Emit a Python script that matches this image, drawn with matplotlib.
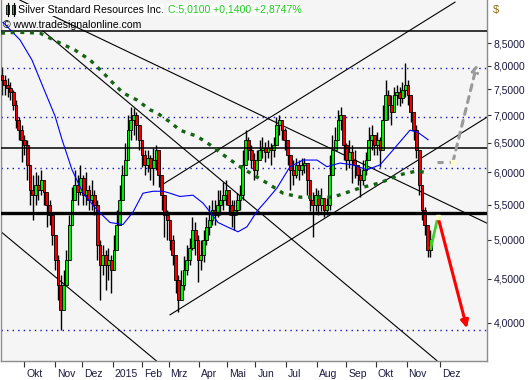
import numpy as np
import matplotlib
matplotlib.use('Agg')
import matplotlib.pyplot as plt
from matplotlib.patches import Rectangle
from matplotlib.ticker import FixedLocator, FixedFormatter, NullLocator
import matplotlib.transforms as mtransforms

plt.rcParams['font.family'] = ['Liberation Sans', 'DejaVu Sans']

# ---------------- data (2-trading-day candles, Sep 2014 - Nov 2015) ----------------
first_open = 7.80
close = [7.69, 7.59, 7.53, 7.45, 7.19, 6.91, 6.72, 6.55, 6.46, 6.12,
         5.72, 5.64, 5.80, 5.72, 5.88, 5.69, 5.49, 5.35, 5.07, 4.74,
         4.43, 4.14, 4.43, 4.74, 5.21, 5.57, 5.80, 5.69, 5.91, 5.64,
         5.72, 5.57, 5.64, 5.49, 4.93, 4.67, 4.80, 4.67, 4.74, 4.61,
         4.87, 5.21, 5.57, 5.96, 6.20, 6.72, 6.91, 7.00, 6.82, 6.55,
         6.29, 6.12, 6.24, 6.07, 6.20, 6.37, 5.96, 5.64, 5.35, 5.28,
         5.00, 4.80, 4.49, 4.25, 4.43, 4.61, 4.74, 4.89, 5.14, 5.00,
         4.74, 4.80, 5.00, 5.17, 5.28, 5.42, 5.35, 5.49, 5.57, 5.64,
         5.72, 5.49, 5.35, 5.42, 5.57, 5.64, 6.12, 6.55, 6.37, 6.20,
         6.04, 6.20, 6.37, 6.41, 6.34, 6.41, 6.37, 6.46, 6.82, 6.91,
         6.72, 6.55, 6.29, 6.04, 5.96, 6.12, 6.04, 6.12, 6.15, 5.88,
         5.57, 5.49, 5.64, 5.49, 5.60, 5.42, 5.49, 5.96, 6.37, 6.55,
         6.91, 7.00, 6.46, 6.20, 6.34, 6.20, 6.12, 5.96, 5.88, 6.04,
         6.20, 6.55, 6.63, 6.46, 6.55, 6.37, 6.91, 7.39, 7.19, 7.06,
         7.39, 7.45, 7.33, 7.49, 7.59, 7.39, 7.06, 6.72, 6.37, 5.80,
         5.42, 5.21, 4.87, 5.01]
high = [7.97, 7.80, 7.74, 7.65, 7.49, 7.29, 6.96, 6.82, 6.63, 6.55,
        6.12, 5.96, 6.00, 5.96, 6.04, 5.88, 5.64, 5.57, 5.35, 5.07,
        4.80, 4.55, 4.61, 4.87, 5.35, 5.77, 6.04, 5.96, 6.12, 5.96,
        6.00, 5.80, 5.88, 5.72, 5.57, 5.00, 4.93, 4.87, 4.89, 4.80,
        5.07, 5.42, 5.80, 6.12, 6.50, 7.00, 7.15, 7.14, 7.06, 6.82,
        6.55, 6.37, 6.37, 6.29, 6.41, 6.46, 6.20, 5.96, 5.64, 5.42,
        5.28, 5.07, 4.80, 4.55, 4.61, 4.79, 4.93, 5.03, 5.32, 5.25,
        5.07, 5.00, 5.14, 5.32, 5.49, 5.57, 5.57, 5.72, 5.72, 5.85,
        5.88, 5.72, 5.57, 5.57, 5.67, 5.80, 6.37, 6.72, 6.59, 6.46,
        6.32, 6.37, 6.55, 6.59, 6.51, 6.55, 6.50, 6.59, 6.96, 7.00,
        6.91, 6.76, 6.55, 6.29, 6.20, 6.24, 6.20, 6.24, 6.24, 6.12,
        5.88, 5.69, 5.75, 5.72, 5.75, 5.60, 5.60, 6.29, 6.63, 6.77,
        7.10, 7.15, 6.91, 6.50, 6.55, 6.46, 6.37, 6.12, 6.07, 6.20,
        6.34, 6.77, 6.82, 6.63, 6.68, 6.59, 7.19, 7.69, 7.49, 7.39,
        7.55, 7.59, 7.55, 7.65, 8.05, 7.69, 7.39, 7.00, 6.82, 6.29,
        5.64, 5.46, 5.21, 5.14]
low = [7.39, 7.39, 7.35, 7.29, 7.10, 6.76, 6.55, 6.17, 6.29, 5.88,
       5.49, 5.28, 5.49, 5.57, 5.64, 5.49, 5.17, 5.21, 4.93, 4.61,
       4.25, 3.92, 4.25, 4.43, 4.74, 5.35, 5.57, 5.49, 5.64, 5.49,
       5.49, 5.42, 5.42, 5.35, 4.74, 4.25, 4.55, 4.37, 4.49, 4.33,
       4.61, 4.87, 5.35, 5.57, 5.96, 6.37, 6.55, 6.63, 6.55, 6.37,
       6.09, 5.96, 6.00, 5.88, 5.80, 6.04, 5.77, 5.42, 5.04, 5.00,
       4.87, 4.67, 4.33, 4.12, 4.25, 4.37, 4.55, 4.67, 4.87, 4.80,
       4.46, 4.61, 4.71, 4.93, 5.07, 5.21, 5.21, 5.32, 5.35, 5.42,
       5.49, 5.35, 5.17, 5.14, 5.35, 5.42, 5.57, 6.12, 6.20, 6.07,
       5.88, 5.96, 6.20, 6.24, 6.17, 6.24, 6.12, 6.25, 6.46, 6.63,
       6.55, 6.37, 6.12, 5.72, 5.80, 5.91, 5.88, 5.96, 5.99, 5.64,
       5.40, 5.04, 5.40, 5.35, 5.40, 5.32, 5.35, 5.42, 6.12, 6.37,
       6.55, 6.72, 6.20, 6.04, 6.07, 5.83, 5.91, 5.80, 5.61, 5.80,
       5.96, 6.29, 6.37, 6.29, 6.29, 6.09, 6.37, 7.00, 6.91, 6.82,
       7.10, 7.19, 7.17, 7.23, 7.35, 7.19, 6.87, 6.55, 6.24, 5.64,
       5.28, 5.07, 4.77, 4.77]

month_days = [16, 38, 57, 79, 100, 119, 141, 161, 181, 203, 225, 246, 267, 289, 313]
month_labels = ["Okt", "Nov", "Dez", "2015", "Feb", "Mrz", "Apr", "Mai",
                "Jun", "Jul", "Aug", "Sep", "Okt", "Nov", "Dez"]
price_ticks = [4.0, 4.5, 5.0, 5.5, 6.0, 6.5, 7.0, 7.5, 8.0, 8.5]

# moving averages (day, price)
ma_fast_day = [0.7, 12.9, 21.4, 29.3, 37.9, 42.9, 50, 57.9, 67.9, 77.1, 86.4, 93.6,
               100.7, 107.9, 115, 120, 127.1, 136.4, 143.6, 148.6, 154.3, 160.7,
               168.6, 175, 182.1, 189.3, 196.4, 205.7, 215, 225, 232.1, 241.4,
               250.7, 260.7, 270, 279.3, 291.4, 297.1, 304.3]
ma_fast_val = [8.99, 8.57, 8.12, 7.55, 6.98, 6.55, 6.04, 5.67, 5.42, 5.24, 5.21, 5.39,
               5.67, 5.70, 5.70, 5.67, 5.62, 5.64, 5.52, 5.39, 5.24, 5.18,
               5.11, 5.18, 5.40, 5.57, 5.75, 6.09, 6.20, 6.20, 6.09, 6.15,
               6.12, 6.04, 6.12, 6.37, 6.72, 6.68, 6.55]
ma_slow_day = [-0.7, 12.9, 27.1, 41.4, 52.1, 62.9, 72.1, 79.3, 86.4, 96.4, 105.7,
               110.7, 120, 127.1, 139.3, 148.6, 157.9, 170, 179.3, 191.4, 200.7,
               212.9, 225, 236.4, 255.7, 270, 284.3, 296.4, 303.6]
ma_slow_val = [8.73, 8.75, 8.73, 8.50, 8.34, 8.12, 7.85, 7.63, 7.43, 7.29, 7.10,
               7.04, 6.87, 6.72, 6.61, 6.46, 6.29, 6.09, 5.96, 5.80, 5.67,
               5.61, 5.61, 5.61, 5.75, 5.83, 5.96, 6.02, 5.99]

# horizontal levels
support_levels = [8.78, 6.41]
main_level = 5.38
dotted_levels = [7.95, 6.96, 6.07, 3.92]

# trend lines: (day0, price0, day1, price1)
trend_lines = [(29.3, 8.78, 310.7, 3.61),
               (12.9, 9.54, 346.4, 5.23),
               (114.3, 5.80, 323.6, 9.49),
               (120.0, 4.085, 346.4, 6.96),
               (-0.7, 5.11, 111.0, 3.60)]

# forecast paths
fc_up_day, fc_up_val = [306.4, 311.4], [4.90, 5.32]
fc_down_day, fc_down_val = [311.4, 332.1], [5.32, 3.94]
fc_alt_day, fc_alt_val = [310.7, 322.1, 339.3], [6.17, 6.17, 8.03]

# ---------------- figure ----------------
W, H = 530, 380
fig = plt.figure(figsize=(W / 100, H / 100), dpi=100)
fig.patch.set_facecolor('white')
ax = fig.add_axes([1 / W, 19 / H, 486 / W, 361 / H])
ax.set_facecolor('#f5f5f5')
ax.set_yscale('log')
ax.set_xlim(-0.714, 346.43)
ax.set_ylim(3.607, 9.545)

close_a = np.array(close)
open_a = np.array([first_open] + close[:-1])
high_a = np.array(high)
low_a = np.array(low)
day = np.arange(len(close)) * 2

up = close_a >= open_a
cols = np.where(up, '#00ee00', '#ee0000')
bottoms = np.minimum(open_a, close_a)
heights = np.maximum(np.abs(close_a - open_a), 0.01)

# horizontal lines
for lv in dotted_levels:
    ax.axhline(lv, color='#1010d0', lw=1.0, linestyle=(0, (1, 3)), zorder=1)
for lv in support_levels:
    ax.axhline(lv, color='black', lw=1.1, zorder=4)
ax.axhline(main_level, color='black', lw=2.4, zorder=4)

# trend lines
for d0, p0, d1, p1 in trend_lines:
    ax.plot([d0, d1], [p0, p1], color='black', lw=0.8, zorder=1.5)

# candles
ax.vlines(day, low_a, high_a, color='black', lw=1.0, zorder=2)
ax.bar(day, heights, bottom=bottoms, width=2.0, color=cols, edgecolor='black',
       linewidth=0.6, zorder=3)

# moving averages
ax.plot(ma_fast_day, ma_fast_val, color='#0000ff', lw=0.8, zorder=5)
ax.plot(ma_slow_day, ma_slow_val, color='#146414', lw=2.4,
        linestyle=(0, (1.2, 1.7)), zorder=5)

# forecast
ax.plot(fc_up_day, fc_up_val, color='#44cc33', lw=2.0, zorder=6)
ax.annotate('', xy=(fc_down_day[1], fc_down_val[1]), xytext=(fc_down_day[0], fc_down_val[0]),
            arrowprops=dict(arrowstyle='-|>', color='#ff0000', lw=2.2, mutation_scale=11,
                            shrinkA=0, shrinkB=0), zorder=6)
ax.plot(fc_alt_day[:2], fc_alt_val[:2], color='#9a9a9a', lw=2.2, linestyle=(0, (2, 2)), zorder=6)
ax.annotate('', xy=(fc_alt_day[2], fc_alt_val[2]), xytext=(fc_alt_day[1], fc_alt_val[1]),
            arrowprops=dict(arrowstyle='->', color='#9a9a9a', lw=2.2, linestyle=(0, (2, 2)),
                            mutation_scale=10, shrinkA=0, shrinkB=0), zorder=6)
ax.plot([fc_alt_day[1], fc_down_day[0]], [fc_alt_val[1], fc_down_val[0]], linestyle='none',
        marker='s', ms=2.5, color='#ffffc8', zorder=7)

# axes styling
for s in ax.spines.values():
    s.set_color('#8c8c8c')
    s.set_linewidth(1.0)
ax.spines['top'].set_visible(False)

ax.yaxis.tick_right()
ax.yaxis.set_major_locator(FixedLocator(price_ticks))
ax.yaxis.set_major_formatter(FixedFormatter([f"{p:.4f}".replace('.', ',') for p in price_ticks]))
ax.yaxis.set_minor_locator(NullLocator())
ax.tick_params(axis='y', which='major', direction='out', length=3, width=0.8,
               color='#303030', labelsize=7.5, labelcolor='#1a1a40', pad=1.5)

ax.set_xticks(month_days)
ax.set_xticklabels(month_labels)
ax.tick_params(axis='x', which='major', direction='out', length=4, width=0.8,
               color='#303030', labelsize=7.5, labelcolor='#1a1a40', pad=2)
offset = mtransforms.ScaledTranslation(2 / 100, 0, fig.dpi_scale_trans)
for lbl in ax.get_xticklabels():
    lbl.set_ha('left')
    lbl.set_transform(lbl.get_transform() + offset)

# header
fig.text(493 / W, 1 - 10 / H, '$', color='#8a6a10', fontsize=8, va='center', ha='left')
fig.text(18 / W, 1 - 10 / H, 'Silver Standard Resources Inc.', color='black', fontsize=7.6,
         va='center', ha='left', bbox=dict(facecolor='white', edgecolor='none', pad=0.5))
fig.text(168 / W, 1 - 10 / H, 'C:5,0100 +0,1400 +2,8747%', color='#1fcc1f', fontsize=7.6,
         va='center', ha='left', bbox=dict(facecolor='white', edgecolor='none', pad=0.5))
fig.text(3 / W, 1 - 25 / H, '\u00a9 www.tradesignalonline.com', color='black', fontsize=7.6,
         va='center', ha='left')

# candle icon
for x0 in (6, 12):
    fig.add_artist(plt.Line2D([(x0 + 1.5) / W] * 2, [1 - 16 / H, 1 - 3 / H], color='black',
                              lw=0.8, transform=fig.transFigure))
    fig.add_artist(Rectangle((x0 / W, 1 - 14 / H), 3 / W, 9 / H, facecolor='#00dd00',
                             edgecolor='black', lw=0.6, transform=fig.transFigure))

fig.savefig('out.png', dpi=100, facecolor='white')
